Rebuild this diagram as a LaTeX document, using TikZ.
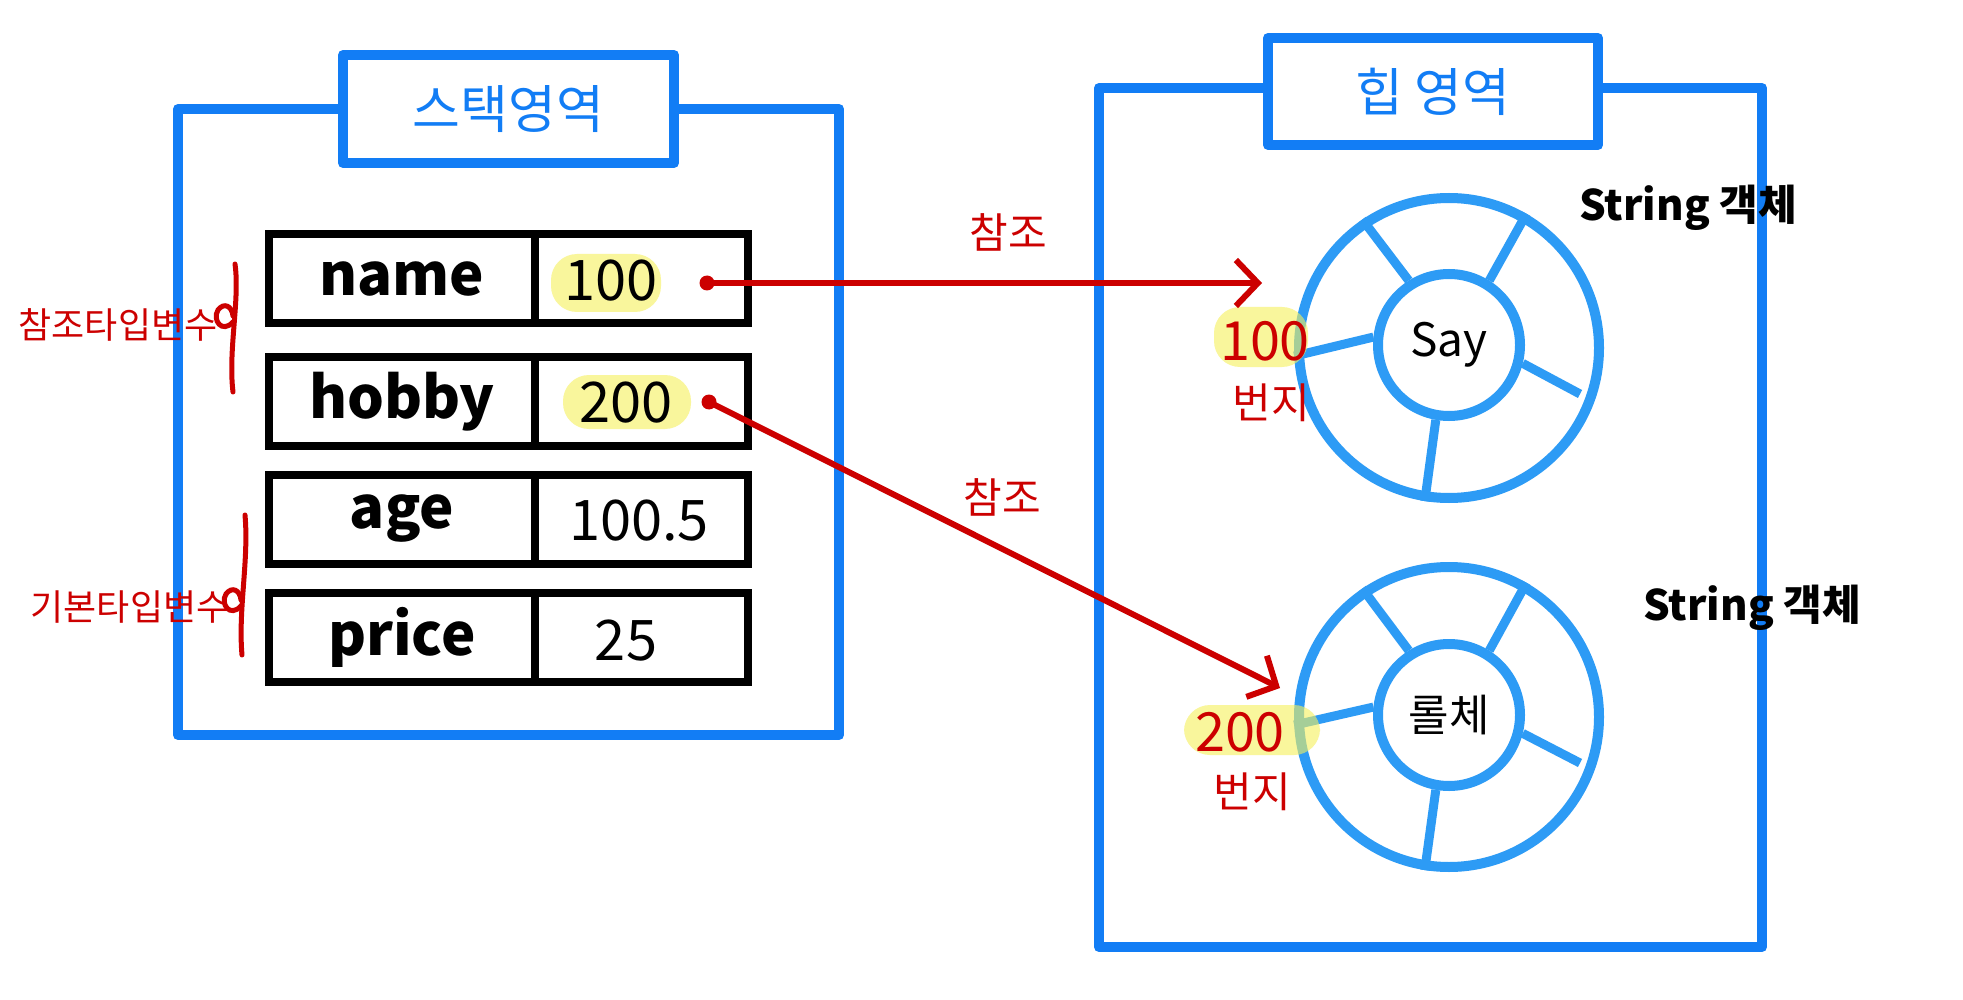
\documentclass[tikz,border=0pt]{standalone}
\usepackage{fontspec}
\setmainfont{Noto Sans CJK KR}
\usetikzlibrary{arrows.meta,calc}
\definecolor{boxblue}{RGB}{18,125,245}
\definecolor{ringblue}{RGB}{45,155,245}
\definecolor{refred}{RGB}{204,0,0}
\definecolor{hlyellow}{RGB}{245,240,90}
\newcommand{\myfs}[1]{\fontsize{#1}{#1}\selectfont}
\begin{document}
\begin{tikzpicture}[x=1pt,y=-1pt,
  areabox/.style={draw=boxblue, line width=10pt, line join=round, inner sep=0pt},
  titlebox/.style={draw=boxblue, fill=white, line width=10pt, line join=round, inner sep=0pt,
                   minimum width=330pt, minimum height=107pt, text=boxblue, font=\myfs{52}},
  cellbox/.style={draw=black, line width=8pt, inner sep=0pt, minimum height=89pt, font=\bfseries\myfs{58}},
  valtext/.style={inner sep=0pt, font=\myfs{56}},
  ring/.style={draw=ringblue, line width=10pt, circle, inner sep=0pt},
  spoke/.style={draw=ringblue, line width=9pt},
  refarrow/.style={draw=refred, line width=6pt, line cap=round, line join=round,
                   -{Straight Barb[length=22pt,width=46pt]}},
  hlnode/.style={fill=hlyellow, fill opacity=0.6, rounded corners=26pt, inner sep=0pt},
  redtext/.style={text=refred, inner sep=0pt},
  dotnode/.style={circle, fill=refred, minimum size=15pt, inner sep=0pt},
  bracket/.style={draw=refred, line width=5pt, line cap=round},
  objlabel/.style={inner sep=0pt, font=\bfseries\myfs{42}}
]
\useasboundingbox (0,0) rectangle (1963,1000);
\fill[white] (0,0) rectangle (1963,1000);

% ---- stack area ----
\node[areabox, minimum width=661pt, minimum height=626pt] (stack) at (508.5,422) {};
\node[titlebox, minimum width=331pt, minimum height=108pt] (stacktitle) at (508.5,109) {스택영역};

% highlights behind values
\node[hlnode, minimum width=110pt, minimum height=58pt] (hlA) at (606,283) {};
\node[hlnode, minimum width=128pt, minimum height=54pt] (hlB) at (627,402) {};

% table cells
\node[cellbox, minimum width=266pt] (k1) at (402,279) {name};
\node[cellbox, minimum width=213pt] (v1) at (641.5,279) {};
\node[cellbox, minimum width=266pt] (k2) at (402,401.5) {hobby};
\node[cellbox, minimum width=213pt] (v2) at (641.5,401.5) {};
\node[cellbox, minimum width=266pt] (k3) at (402,519) {age};
\node[cellbox, minimum width=213pt] (v3) at (641.5,519) {};
\node[cellbox, minimum width=266pt] (k4) at (402,637) {price};
\node[cellbox, minimum width=213pt] (v4) at (641.5,637) {};

\node[valtext] (t1) at (611,281) {100};
\node[valtext] (t2) at (626,403) {200};
\node[valtext] (t3) at (639,521) {100.5};
\node[valtext] (t4) at (626,641) {25};

\node[dotnode] (dot1) at (707,283) {};
\node[dotnode] (dot2) at (709,402) {};

% side labels
\node[redtext, font=\myfs{36}] (lblref) at (118,325) {참조타입변수};
\node[redtext, font=\myfs{36}] (lblprim) at (130,607) {기본타입변수};
\draw[bracket] (235,264) .. controls (240,300) and (228,350) .. (233,392);
\draw[bracket] (233,322) .. controls (222,334) and (212,320) .. (218,310) .. controls (224,302) and (232,306) .. (233,316);
\draw[bracket] (245,515) .. controls (249,560) and (238,610) .. (242,655);
\draw[bracket] (241,606) .. controls (230,618) and (220,604) .. (226,594) .. controls (232,586) and (240,590) .. (241,600);

% ---- heap area ----
\node[areabox, minimum width=663pt, minimum height=859pt] (heap) at (1430.5,517.5) {};
\node[titlebox] (heaptitle) at (1433,91.5) {힙 영역};

% object 1
\node[ring, minimum size=300pt] (obj1) at (1449,348) {};
\node[ring, minimum size=142pt, font=\myfs{46}] (core1) at (1449,345) {Say};
\draw[spoke] (core1.122) -- (obj1.124);
\draw[spoke] (core1.58) -- (obj1.60);
\draw[spoke] (core1.174) -- (obj1.183);
\draw[spoke] (core1.-14) -- ($(obj1.center)+(131,46)$);
\draw[spoke] (core1.-100) -- (obj1.-99);
\node[objlabel] (name1) at (1688,208) {String 객체};

% object 2
\node[ring, minimum size=300pt] (obj2) at (1449,717) {};
\node[ring, minimum size=142pt, font=\myfs{44}] (core2) at (1449,715) {롤체};
\draw[spoke] (core2.122) -- (obj2.124);
\draw[spoke] (core2.58) -- (obj2.60);
\draw[spoke] (core2.174) -- (obj2.183);
\draw[spoke] (core2.-14) -- ($(obj2.center)+(131,46)$);
\draw[spoke] (core2.-100) -- (obj2.-99);
\node[objlabel] (name2) at (1752,608) {String 객체};

% address highlights and labels
\node[hlnode, minimum width=94pt, minimum height=60pt] (hlC) at (1261,337) {};
\node[hlnode, minimum width=136pt, minimum height=50pt] (hlD) at (1252,730) {};
\node[redtext, font=\myfs{54}] (addr1) at (1265,341) {100};
\node[redtext, font=\myfs{42}] (bun1) at (1271,403) {번지};
\node[redtext, font=\myfs{54}] (addr2) at (1240,732) {200};
\node[redtext, font=\myfs{42}] (bun2) at (1252,792) {번지};

% references
\coordinate (tip1) at (1262,283);
\coordinate (tip2) at (1280,688);
\draw[refarrow] (dot1.center) -- (tip1);
\draw[refarrow] (dot2.center) -- (tip2);
\node[redtext, font=\myfs{42}] (ref1) at (1008,232) {참조};
\node[redtext, font=\myfs{42}] (ref2) at (1002,497) {참조};
\end{tikzpicture}
\end{document}
